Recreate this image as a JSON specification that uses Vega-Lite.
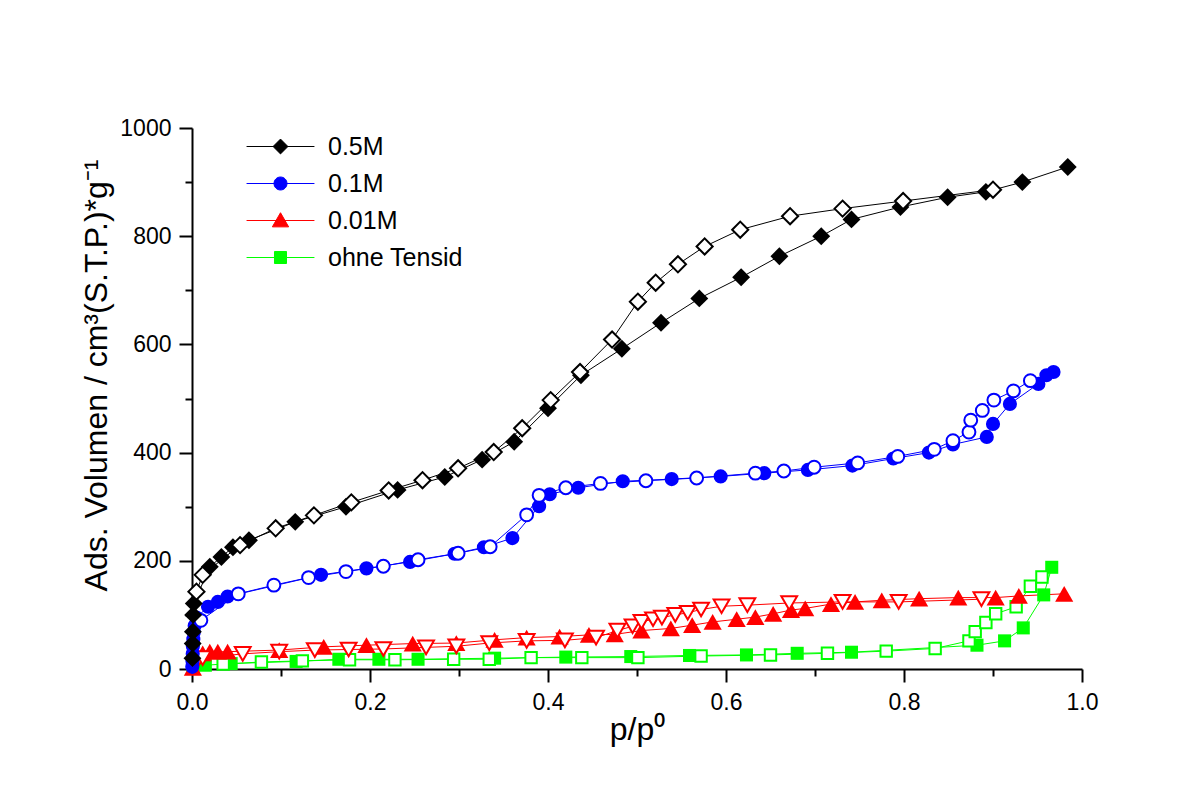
{
  "$schema": "https://vega.github.io/schema/vega-lite/v6.json",
  "width": 890,
  "height": 541,
  "autosize": "none",
  "padding": {"left": 192, "top": 128, "right": 116, "bottom": 127},
  "background": "white",
  "config": {
    "view": {"stroke": null},
    "axis": {"domainColor": "black", "domainWidth": 2, "tickColor": "black", "tickWidth": 2, "labelFont": "Liberation Sans", "labelFontSize": 23, "labelColor": "black", "titleFont": "Liberation Sans", "titleFontSize": 32, "titleFontWeight": "normal", "titleColor": "black", "grid": false}
  },
  "data": {"values": [
    {"s":"ohne Tensid","b":"a","x":0.001,"y":1},{"s":"ohne Tensid","b":"a","x":0.015,"y":7},{"s":"ohne Tensid","b":"a","x":0.044,"y":10},{"s":"ohne Tensid","b":"a","x":0.117,"y":14},{"s":"ohne Tensid","b":"a","x":0.165,"y":18},{"s":"ohne Tensid","b":"a","x":0.210,"y":18},{"s":"ohne Tensid","b":"a","x":0.254,"y":18},{"s":"ohne Tensid","b":"a","x":0.340,"y":20},{"s":"ohne Tensid","b":"a","x":0.420,"y":22},{"s":"ohne Tensid","b":"a","x":0.493,"y":23},{"s":"ohne Tensid","b":"a","x":0.559,"y":25},{"s":"ohne Tensid","b":"a","x":0.623,"y":26},{"s":"ohne Tensid","b":"a","x":0.680,"y":29},{"s":"ohne Tensid","b":"a","x":0.741,"y":31},{"s":"ohne Tensid","b":"a","x":0.882,"y":44},{"s":"ohne Tensid","b":"a","x":0.913,"y":52},{"s":"ohne Tensid","b":"a","x":0.934,"y":76},{"s":"ohne Tensid","b":"a","x":0.957,"y":137},{"s":"ohne Tensid","b":"a","x":0.966,"y":188},
    {"s":"ohne Tensid","b":"d","x":0.035,"y":9},{"s":"ohne Tensid","b":"d","x":0.078,"y":13},{"s":"ohne Tensid","b":"d","x":0.124,"y":15},{"s":"ohne Tensid","b":"d","x":0.177,"y":17},{"s":"ohne Tensid","b":"d","x":0.228,"y":17},{"s":"ohne Tensid","b":"d","x":0.294,"y":18},{"s":"ohne Tensid","b":"d","x":0.334,"y":18},{"s":"ohne Tensid","b":"d","x":0.381,"y":21},{"s":"ohne Tensid","b":"d","x":0.438,"y":21},{"s":"ohne Tensid","b":"d","x":0.501,"y":21},{"s":"ohne Tensid","b":"d","x":0.572,"y":24},{"s":"ohne Tensid","b":"d","x":0.650,"y":26},{"s":"ohne Tensid","b":"d","x":0.714,"y":29},{"s":"ohne Tensid","b":"d","x":0.780,"y":33},{"s":"ohne Tensid","b":"d","x":0.835,"y":38},{"s":"ohne Tensid","b":"d","x":0.873,"y":52},{"s":"ohne Tensid","b":"d","x":0.880,"y":69},{"s":"ohne Tensid","b":"d","x":0.892,"y":86},{"s":"ohne Tensid","b":"d","x":0.903,"y":102},{"s":"ohne Tensid","b":"d","x":0.926,"y":115},{"s":"ohne Tensid","b":"d","x":0.942,"y":153},{"s":"ohne Tensid","b":"d","x":0.955,"y":170},
    {"s":"0.01M","b":"a","x":0.001,"y":2},{"s":"0.01M","b":"a","x":0.012,"y":29},{"s":"0.01M","b":"a","x":0.020,"y":32},{"s":"0.01M","b":"a","x":0.029,"y":32},{"s":"0.01M","b":"a","x":0.040,"y":32},{"s":"0.01M","b":"a","x":0.098,"y":35},{"s":"0.01M","b":"a","x":0.148,"y":41},{"s":"0.01M","b":"a","x":0.196,"y":44},{"s":"0.01M","b":"a","x":0.248,"y":47},{"s":"0.01M","b":"a","x":0.297,"y":48},{"s":"0.01M","b":"a","x":0.340,"y":54},{"s":"0.01M","b":"a","x":0.376,"y":58},{"s":"0.01M","b":"a","x":0.413,"y":60},{"s":"0.01M","b":"a","x":0.446,"y":63},{"s":"0.01M","b":"a","x":0.475,"y":64},{"s":"0.01M","b":"a","x":0.505,"y":71},{"s":"0.01M","b":"a","x":0.538,"y":75},{"s":"0.01M","b":"a","x":0.562,"y":81},{"s":"0.01M","b":"a","x":0.585,"y":87},{"s":"0.01M","b":"a","x":0.612,"y":92},{"s":"0.01M","b":"a","x":0.633,"y":96},{"s":"0.01M","b":"a","x":0.653,"y":102},{"s":"0.01M","b":"a","x":0.673,"y":109},{"s":"0.01M","b":"a","x":0.689,"y":112},{"s":"0.01M","b":"a","x":0.718,"y":120},{"s":"0.01M","b":"a","x":0.745,"y":124},{"s":"0.01M","b":"a","x":0.775,"y":127},{"s":"0.01M","b":"a","x":0.817,"y":130},{"s":"0.01M","b":"a","x":0.861,"y":132},{"s":"0.01M","b":"a","x":0.903,"y":132},{"s":"0.01M","b":"a","x":0.929,"y":135},{"s":"0.01M","b":"a","x":0.980,"y":139},
    {"s":"0.01M","b":"d","x":0.005,"y":12},{"s":"0.01M","b":"d","x":0.012,"y":20},{"s":"0.01M","b":"d","x":0.057,"y":28},{"s":"0.01M","b":"d","x":0.098,"y":32},{"s":"0.01M","b":"d","x":0.138,"y":35},{"s":"0.01M","b":"d","x":0.176,"y":36},{"s":"0.01M","b":"d","x":0.215,"y":37},{"s":"0.01M","b":"d","x":0.263,"y":40},{"s":"0.01M","b":"d","x":0.297,"y":42},{"s":"0.01M","b":"d","x":0.334,"y":48},{"s":"0.01M","b":"d","x":0.376,"y":52},{"s":"0.01M","b":"d","x":0.419,"y":53},{"s":"0.01M","b":"d","x":0.454,"y":58},{"s":"0.01M","b":"d","x":0.478,"y":71},{"s":"0.01M","b":"d","x":0.495,"y":79},{"s":"0.01M","b":"d","x":0.505,"y":87},{"s":"0.01M","b":"d","x":0.518,"y":92},{"s":"0.01M","b":"d","x":0.528,"y":95},{"s":"0.01M","b":"d","x":0.543,"y":100},{"s":"0.01M","b":"d","x":0.557,"y":104},{"s":"0.01M","b":"d","x":0.572,"y":110},{"s":"0.01M","b":"d","x":0.595,"y":116},{"s":"0.01M","b":"d","x":0.624,"y":118},{"s":"0.01M","b":"d","x":0.671,"y":122},{"s":"0.01M","b":"d","x":0.731,"y":124},{"s":"0.01M","b":"d","x":0.794,"y":124},{"s":"0.01M","b":"d","x":0.887,"y":129},
    {"s":"0.1M","b":"a","x":0.0003,"y":4},{"s":"0.1M","b":"a","x":0.0005,"y":15},{"s":"0.1M","b":"a","x":0.0008,"y":28},{"s":"0.1M","b":"a","x":0.001,"y":42},{"s":"0.1M","b":"a","x":0.0015,"y":55},{"s":"0.1M","b":"a","x":0.002,"y":68},{"s":"0.1M","b":"a","x":0.003,"y":80},{"s":"0.1M","b":"a","x":0.005,"y":95},{"s":"0.1M","b":"a","x":0.018,"y":115},{"s":"0.1M","b":"a","x":0.029,"y":124},{"s":"0.1M","b":"a","x":0.040,"y":134},{"s":"0.1M","b":"a","x":0.145,"y":174},{"s":"0.1M","b":"a","x":0.196,"y":186},{"s":"0.1M","b":"a","x":0.245,"y":198},{"s":"0.1M","b":"a","x":0.295,"y":213},{"s":"0.1M","b":"a","x":0.328,"y":225},{"s":"0.1M","b":"a","x":0.360,"y":242},{"s":"0.1M","b":"a","x":0.390,"y":301},{"s":"0.1M","b":"a","x":0.402,"y":323},{"s":"0.1M","b":"a","x":0.434,"y":335},{"s":"0.1M","b":"a","x":0.484,"y":347},{"s":"0.1M","b":"a","x":0.539,"y":351},{"s":"0.1M","b":"a","x":0.594,"y":356},{"s":"0.1M","b":"a","x":0.643,"y":362},{"s":"0.1M","b":"a","x":0.692,"y":368},{"s":"0.1M","b":"a","x":0.742,"y":376},{"s":"0.1M","b":"a","x":0.788,"y":389},{"s":"0.1M","b":"a","x":0.828,"y":400},{"s":"0.1M","b":"a","x":0.855,"y":415},{"s":"0.1M","b":"a","x":0.893,"y":429},{"s":"0.1M","b":"a","x":0.900,"y":453},{"s":"0.1M","b":"a","x":0.919,"y":490},{"s":"0.1M","b":"a","x":0.951,"y":527},{"s":"0.1M","b":"a","x":0.960,"y":543},{"s":"0.1M","b":"a","x":0.968,"y":549},
    {"s":"0.1M","b":"d","x":0.010,"y":90},{"s":"0.1M","b":"d","x":0.052,"y":139},{"s":"0.1M","b":"d","x":0.092,"y":155},{"s":"0.1M","b":"d","x":0.131,"y":169},{"s":"0.1M","b":"d","x":0.173,"y":180},{"s":"0.1M","b":"d","x":0.215,"y":190},{"s":"0.1M","b":"d","x":0.254,"y":202},{"s":"0.1M","b":"d","x":0.299,"y":214},{"s":"0.1M","b":"d","x":0.335,"y":226},{"s":"0.1M","b":"d","x":0.376,"y":285},{"s":"0.1M","b":"d","x":0.390,"y":321},{"s":"0.1M","b":"d","x":0.420,"y":335},{"s":"0.1M","b":"d","x":0.459,"y":343},{"s":"0.1M","b":"d","x":0.510,"y":348},{"s":"0.1M","b":"d","x":0.567,"y":353},{"s":"0.1M","b":"d","x":0.633,"y":362},{"s":"0.1M","b":"d","x":0.665,"y":366},{"s":"0.1M","b":"d","x":0.699,"y":373},{"s":"0.1M","b":"d","x":0.748,"y":381},{"s":"0.1M","b":"d","x":0.793,"y":393},{"s":"0.1M","b":"d","x":0.834,"y":406},{"s":"0.1M","b":"d","x":0.855,"y":422},{"s":"0.1M","b":"d","x":0.873,"y":438},{"s":"0.1M","b":"d","x":0.875,"y":460},{"s":"0.1M","b":"d","x":0.888,"y":478},{"s":"0.1M","b":"d","x":0.901,"y":497},{"s":"0.1M","b":"d","x":0.923,"y":514},{"s":"0.1M","b":"d","x":0.942,"y":533},
    {"s":"0.5M","b":"a","x":0.0005,"y":20},{"s":"0.5M","b":"a","x":0.0008,"y":47},{"s":"0.5M","b":"a","x":0.001,"y":69},{"s":"0.5M","b":"a","x":0.0013,"y":100},{"s":"0.5M","b":"a","x":0.002,"y":121},{"s":"0.5M","b":"a","x":0.020,"y":189},{"s":"0.5M","b":"a","x":0.033,"y":207},{"s":"0.5M","b":"a","x":0.046,"y":225},{"s":"0.5M","b":"a","x":0.064,"y":238},{"s":"0.5M","b":"a","x":0.116,"y":272},{"s":"0.5M","b":"a","x":0.173,"y":300},{"s":"0.5M","b":"a","x":0.231,"y":331},{"s":"0.5M","b":"a","x":0.284,"y":355},{"s":"0.5M","b":"a","x":0.326,"y":387},{"s":"0.5M","b":"a","x":0.362,"y":420},{"s":"0.5M","b":"a","x":0.400,"y":482},{"s":"0.5M","b":"a","x":0.437,"y":543},{"s":"0.5M","b":"a","x":0.483,"y":592},{"s":"0.5M","b":"a","x":0.527,"y":640},{"s":"0.5M","b":"a","x":0.570,"y":685},{"s":"0.5M","b":"a","x":0.617,"y":724},{"s":"0.5M","b":"a","x":0.660,"y":763},{"s":"0.5M","b":"a","x":0.707,"y":800},{"s":"0.5M","b":"a","x":0.741,"y":831},{"s":"0.5M","b":"a","x":0.796,"y":854},{"s":"0.5M","b":"a","x":0.849,"y":872},{"s":"0.5M","b":"a","x":0.892,"y":882},{"s":"0.5M","b":"a","x":0.933,"y":900},{"s":"0.5M","b":"a","x":0.984,"y":928},
    {"s":"0.5M","b":"d","x":0.005,"y":143},{"s":"0.5M","b":"d","x":0.012,"y":174},{"s":"0.5M","b":"d","x":0.054,"y":229},{"s":"0.5M","b":"d","x":0.094,"y":260},{"s":"0.5M","b":"d","x":0.137,"y":284},{"s":"0.5M","b":"d","x":0.179,"y":308},{"s":"0.5M","b":"d","x":0.221,"y":330},{"s":"0.5M","b":"d","x":0.259,"y":349},{"s":"0.5M","b":"d","x":0.299,"y":371},{"s":"0.5M","b":"d","x":0.339,"y":401},{"s":"0.5M","b":"d","x":0.371,"y":445},{"s":"0.5M","b":"d","x":0.403,"y":497},{"s":"0.5M","b":"d","x":0.436,"y":549},{"s":"0.5M","b":"d","x":0.472,"y":609},{"s":"0.5M","b":"d","x":0.501,"y":679},{"s":"0.5M","b":"d","x":0.521,"y":714},{"s":"0.5M","b":"d","x":0.546,"y":748},{"s":"0.5M","b":"d","x":0.576,"y":781},{"s":"0.5M","b":"d","x":0.616,"y":812},{"s":"0.5M","b":"d","x":0.672,"y":837},{"s":"0.5M","b":"d","x":0.731,"y":851},{"s":"0.5M","b":"d","x":0.799,"y":865},{"s":"0.5M","b":"d","x":0.900,"y":886}
  ]},
  "encoding": {
    "x": {"field": "x", "type": "quantitative", "scale": {"domain": [0, 1], "nice": false, "zero": false},
      "axis": {"title": "p/p⁰", "values": [0,0.1,0.2,0.3,0.4,0.5,0.6,0.7,0.8,0.9,1.0],
        "labelExpr": "abs(datum.value*5 - round(datum.value*5)) < 0.001 ? format(datum.value, '.1f') : ''",
        "tickSize": {"condition": {"test": "abs(datum.value*5 - round(datum.value*5)) < 0.001", "value": 13}, "value": 7},
        "labelPadding": 9, "titlePadding": 0, "labelFlush": false, "labelOverlap": false}},
    "y": {"field": "y", "type": "quantitative", "scale": {"domain": [0, 1000], "nice": false},
      "axis": {"title": "Ads. Volumen / cm³(S.T.P.)*g⁻¹", "values": [0,100,200,300,400,500,600,700,800,900,1000],
        "labelExpr": "datum.value % 200 === 0 ? format(datum.value, 'd') : ''",
        "tickSize": {"condition": {"test": "datum.value % 200 === 0", "value": 13}, "value": 7},
        "labelPadding": 8, "titlePadding": 6, "titleY": 247, "labelFlush": false, "labelOverlap": false}}
  },
  "layer": [
    {
      "mark": {"type": "line", "strokeWidth": 1, "clip": false},
      "encoding": {
        "color": {"field": "s", "type": "nominal", "scale": {"domain": ["0.5M", "0.1M", "0.01M", "ohne Tensid"], "range": ["#000000", "#0000ff", "#ff0000", "#00ff00"]},
          "legend": {"orient": "none", "legendX": 76, "legendY": 6, "title": null, "padding": 0,
            "labelFont": "Liberation Sans", "labelFontSize": 25, "labelColor": "black", "symbolSize": 200, "labelOffset": 35, "rowPadding": 11, "symbolOpacity": 1,
            "encode": {"symbols": {"update": {
              "shape": {"signal": "datum.value === '0.5M' ? 'M-4.8,0H4.8M-1.05,0L0,-1.05L1.05,0L0,1.05Z' : datum.value === '0.1M' ? 'M-4.8,0H4.8M-0.92,0A0.92,0.92 0 1,0 0.92,0A0.92,0.92 0 1,0 -0.92,0Z' : datum.value === '0.01M' ? 'M-4.8,0H4.8M0,-1.1L1.15,0.9L-1.15,0.9Z' : 'M-4.8,0H4.8M-0.85,-0.85H0.85V0.85H-0.85Z'"},
              "fill": {"signal": "datum.value === '0.5M' ? '#000000' : datum.value === '0.1M' ? '#0000ff' : datum.value === '0.01M' ? '#ff0000' : '#00ff00'"},
              "strokeWidth": {"value": 1}
            }}}}},
        "detail": {"field": "b"}
      }
    },
    {"transform": [{"filter": "datum.s === 'ohne Tensid' && datum.b === 'a'"}],
     "mark": {"type": "point", "shape": "square", "size": 170, "filled": true, "fill": "#00ff00", "strokeWidth": 0, "opacity": 1, "clip": false}},
    {"transform": [{"filter": "datum.s === 'ohne Tensid' && datum.b === 'd'"}],
     "mark": {"type": "point", "shape": "square", "size": 130, "filled": false, "fill": "white", "fillOpacity": 1, "stroke": "#00ff00", "strokeWidth": 2, "opacity": 1, "clip": false}},
    {"transform": [{"filter": "datum.s === '0.01M' && datum.b === 'a'"}],
     "mark": {"type": "point", "shape": "triangle-up", "size": 330, "filled": true, "fill": "#ff0000", "strokeWidth": 0, "opacity": 1, "clip": false}},
    {"transform": [{"filter": "datum.s === '0.01M' && datum.b === 'd'"}],
     "mark": {"type": "point", "shape": "triangle-down", "size": 250, "filled": false, "fill": "white", "fillOpacity": 1, "stroke": "#ff0000", "strokeWidth": 2, "opacity": 1, "clip": false}},
    {"transform": [{"filter": "datum.s === '0.1M' && datum.b === 'a'"}],
     "mark": {"type": "point", "shape": "circle", "size": 200, "filled": true, "fill": "#0000ff", "strokeWidth": 0, "opacity": 1, "clip": false}},
    {"transform": [{"filter": "datum.s === '0.1M' && datum.b === 'd'"}],
     "mark": {"type": "point", "shape": "circle", "size": 165, "filled": false, "fill": "white", "fillOpacity": 1, "stroke": "#0000ff", "strokeWidth": 2, "opacity": 1, "clip": false}},
    {"transform": [{"filter": "datum.s === '0.5M' && datum.b === 'a'"}],
     "mark": {"type": "point", "shape": "diamond", "size": 320, "filled": true, "fill": "#000000", "strokeWidth": 0, "opacity": 1, "clip": false}},
    {"transform": [{"filter": "datum.s === '0.5M' && datum.b === 'd'"}],
     "mark": {"type": "point", "shape": "diamond", "size": 260, "filled": false, "fill": "white", "fillOpacity": 1, "stroke": "#000000", "strokeWidth": 2, "opacity": 1, "clip": false}}
  ]
}
